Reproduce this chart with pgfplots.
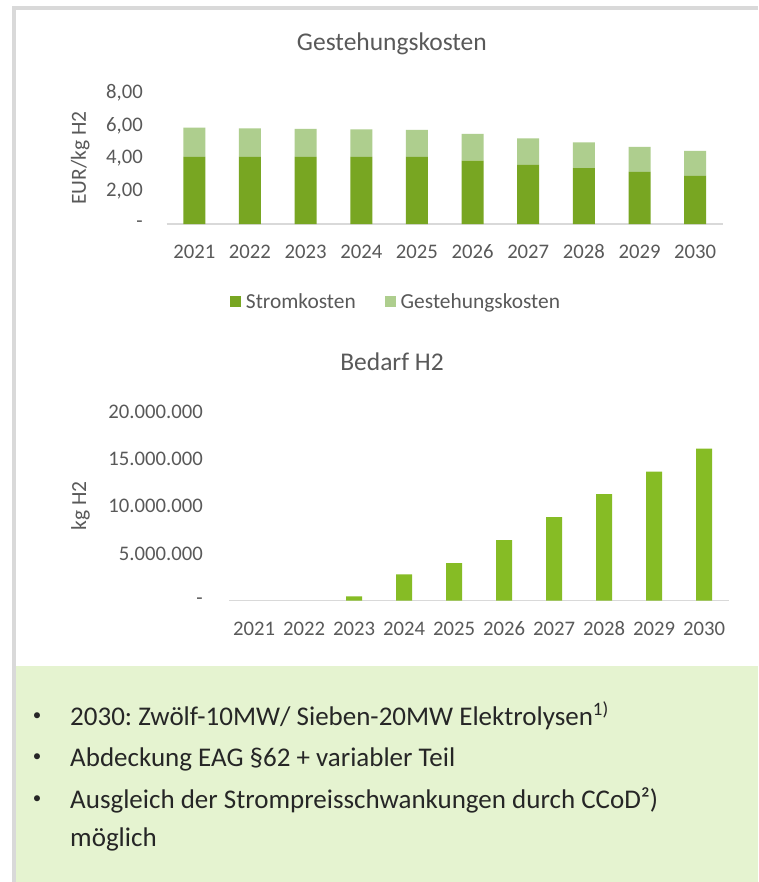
\documentclass[border=0pt]{standalone}
\usepackage{pgfplots}
\pgfplotsset{compat=1.18}
\usepackage{fontspec}
\setmainfont{Carlito}
\frenchspacing
\definecolor{txtgray}{HTML}{595959}
\definecolor{strom}{HTML}{78A622}
\definecolor{gest}{HTML}{AECE8E}
\definecolor{bedarf}{HTML}{86BC25}
\definecolor{frame}{HTML}{D9D9D9}
\definecolor{boxgreen}{HTML}{E5F3D0}
\definecolor{axisgray}{HTML}{D9D9D9}
\begin{document}
\begin{tikzpicture}
\fill[white] (0pt,0pt) rectangle (758pt,-882pt);
\fill[frame] (12pt,-6pt) rectangle (758pt,-10pt);
\fill[frame] (12pt,-6pt) rectangle (16pt,-882pt);
\fill[boxgreen] (16pt,-666pt) rectangle (758pt,-882pt);

\pgfplotsset{
  mystyle/.style={
    scale only axis,
    anchor=south west,
    xmin=-0.5, xmax=9.5,
    xtick={0,...,9},
    xticklabels={2021,2022,2023,2024,2025,2026,2027,2028,2029,2030},
    axis x line*=bottom,
    axis y line*=left,
    y axis line style={draw=none},
    x axis line style={-, draw=axisgray, line width=1.5pt},
    tick style={draw=none},
    major tick length=0pt,
    ticklabel style={font=\fontsize{20.7}{24}\selectfont, text=txtgray, inner sep=0pt},
    xticklabel style={anchor=center, yshift=-28pt},
    title style={font=\fontsize{25.5}{30}\selectfont, text=txtgray, anchor=center, yshift=-6pt},
  }
}

\begin{axis}[mystyle,
  at={(166.5pt,-224pt)},
  width=556.5pt, height=131.3pt,
  ymin=0, ymax=8,
  ytick={0,2,4,6,8},
  yticklabels={-\hspace{11pt},{2,00},{4,00},{6,00},{8,00}},
  yticklabel style={anchor=east, xshift=-23.5pt},
  ybar stacked, bar width=22pt,
  ylabel={EUR/kg H2},
  every axis y label/.style={at={(axis description cs:-0.155,0.503)}, rotate=90, anchor=center,
     font=\fontsize{21.5}{24}\selectfont, text=txtgray},
  title={Gestehungskosten},
  title style={at={(axis description cs:0.405,1.371)}},
  legend style={at={(axis description cs:0.4124,-0.594)}, anchor=center, draw=none, fill=none,
    legend columns=2, font=\fontsize{21.4}{24}\selectfont, text=txtgray,
    /tikz/every even column/.append style={column sep=27pt},
    legend cell align=left},
  legend image code/.code={\fill[#1,draw=none] (0pt,-5.5pt) rectangle (11pt,5.5pt); \path (14pt,0pt);},
]
\addplot[fill=strom, draw=none] coordinates {(0,4.09) (1,4.09) (2,4.09) (3,4.09) (4,4.09) (5,3.86) (6,3.60) (7,3.41) (8,3.17) (9,2.93)};
\addplot[fill=gest, draw=none] coordinates {(0,1.78) (1,1.74) (2,1.70) (3,1.68) (4,1.64) (5,1.63) (6,1.62) (7,1.57) (8,1.53) (9,1.52)};
\legend{Stromkosten, Gestehungskosten}
\end{axis}

\begin{axis}[mystyle,
  at={(229pt,-600.7pt)},
  width=500pt, height=189pt,
  ymin=0, ymax=20000000,
  ytick={0,5000000,10000000,15000000,20000000},
  yticklabels={-\hspace{9.5pt},{5.000.000},{10.000.000},{15.000.000},{20.000.000}},
  yticklabel style={anchor=east, xshift=-26pt},
  scaled y ticks=false,
  ybar, bar width=16pt,
  ylabel={kg H2},
  every axis y label/.style={at={(axis description cs:-0.297,0.5)}, rotate=90, anchor=center,
     font=\fontsize{21.5}{24}\selectfont, text=txtgray},
  title={Bedarf H2},
  title style={at={(axis description cs:0.326,1.263)}},
]
\addplot[fill=bedarf, draw=none, bar shift=0pt] coordinates {(2,450000) (3,2790000) (4,3980000) (5,6410000) (6,8840000) (7,11270000) (8,13660000) (9,16090000)};
\end{axis}

\begin{scope}[every node/.style={inner sep=0pt, anchor=base west, font=\fontsize{27}{32}\selectfont, text=black!85}]
\node[anchor=center, font=\fontsize{17}{20}\selectfont] at (37pt,-717pt) {•};
\node at (70pt,-725pt) {2030: Zwölf-10MW/ Sieben-20MW Elektrolysen\textsuperscript{1)}};
\node[anchor=center, font=\fontsize{17}{20}\selectfont] at (37pt,-758pt) {•};
\node at (70pt,-766pt) {Abdeckung EAG §62 + variabler Teil};
\node[anchor=center, font=\fontsize{17}{20}\selectfont] at (37pt,-800pt) {•};
\node at (70pt,-808pt) {Ausgleich der Strompreisschwankungen durch CCoD²)};
\node at (70pt,-846pt) {möglich};
\end{scope}
\end{tikzpicture}
\end{document}
